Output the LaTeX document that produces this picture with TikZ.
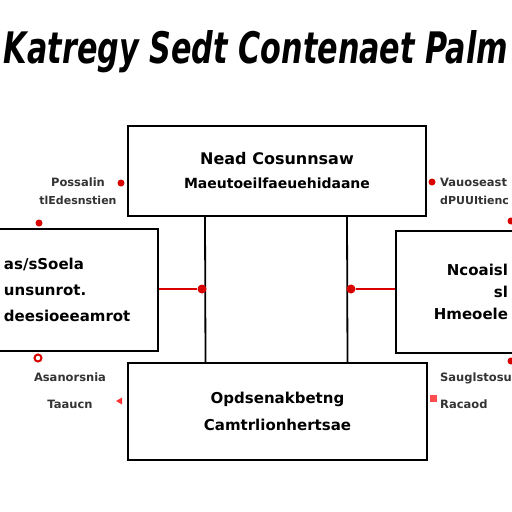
\documentclass[tikz,border=0pt]{standalone}
\usepackage{fontspec}
\usepackage{graphicx}
\setmainfont{DejaVu Sans}
\usetikzlibrary{shapes.geometric}

\tikzset{
    block/.style   = {draw, line width=1.8pt, fill=white, inner sep=4pt},
    blocktext/.style = {font=\bfseries\fontsize{15}{26}\selectfont},
    side/.style    = {font=\bfseries\fontsize{11.5}{27}\selectfont, text=black!80, inner sep=0pt},
    link/.style    = {line width=1.8pt},
    redlink/.style = {draw=red!85!black, line width=1.8pt},
    reddot/.style  = {circle, fill=red!85!black, inner sep=0pt, minimum size=7pt},
}

\begin{document}
\begin{tikzpicture}[x=1pt, y=-1pt]
    \clip (0,0) rectangle (512,512);
    \fill [white] (0,0) rectangle (512,512);

    % Title
    \node [anchor=base, inner sep=0pt] (title) at (256,63)
        {\resizebox{504pt}{33pt}{\bfseries\itshape Katregy Sedt Contenaet Palm}};

    % Blocks {top, left, right, bottom}
    \node [block, minimum width=298pt, minimum height=90pt, align=center,
           font=\bfseries\fontsize{16}{25}\selectfont] (top) at (277,171)
        {Nead Cosunnsaw\\[-1pt]{\fontsize{14}{14}\selectfont Maeutoeilfaeuehidaane}};
    \node [block, blocktext, minimum width=170pt, minimum height=122pt,
           text width=138pt, align=left] (left) at (73,290)
        {as/sSoela\\unsunrot.\\deesioeeamrot};
    \node [block, minimum width=144pt, minimum height=122pt,
           text width=80pt, align=right, font=\bfseries\fontsize{15}{22}\selectfont] (right) at (468,292)
        {Ncoaisl\\sl\\Hmeoele};
    \node [block, minimum width=299pt, minimum height=97pt, align=center,
           font=\bfseries\fontsize{15}{27}\selectfont] (bottom) at (277.5,411.5)
        {Opdsenakbetng\\Camtrlionhertsae};

    % Side labels
    \node [side, align=center] (lbtop)  at (78,191)  {Possalin\\[-9pt]{\fontsize{11}{11}\selectfont tlEdesnstien}};
    \node [side, align=left, anchor=west] (rbtop) at (440,191) {Vauoseast\\[-9pt]{\fontsize{11}{11}\selectfont dPUUItienc}};
    \node [side, align=center] (lbbot)  at (70,391)  {Asanorsnia\\Taaucn};
    \node [side, align=left, anchor=west] (rbbot) at (440,391) {Sauglstosu\\Racaod};

    % Paths
    \draw [link] ([xshift=-72pt]top.south) -- ([xshift=-72pt]bottom.north);
    \draw [link] ([xshift=70pt]top.south)  -- ([xshift=70pt]bottom.north);

    \node [reddot, minimum size=9pt] (ljoin) at (202,289) {};
    \node [reddot, minimum size=9pt] (rjoin) at (351,289) {};
    \draw [redlink] (left.east |- ljoin) -- (ljoin);
    \draw [redlink] (right.west |- rjoin) -- (rjoin);

    % Red marks
    \node [reddot] (m1) at (121,183) {};
    \node [reddot] (m2) at (39,223)  {};
    \node [reddot] (m3) at (432,182) {};
    \node [reddot] (m4) at (511,221) {};
    \node [reddot] (m5) at (511,361) {};
    \node [circle, draw=red!85!black, line width=2pt, fill=white, inner sep=0pt, minimum size=7pt] (m6) at (38,358) {};
    \node [regular polygon, regular polygon sides=3, fill=red!80, inner sep=0pt, minimum size=8pt, rotate=-30] (m7) at (120,401) {};
    \node [fill=red!70, inner sep=0pt, minimum size=7pt] (m8) at (433,398) {};
\end{tikzpicture}
\end{document}
